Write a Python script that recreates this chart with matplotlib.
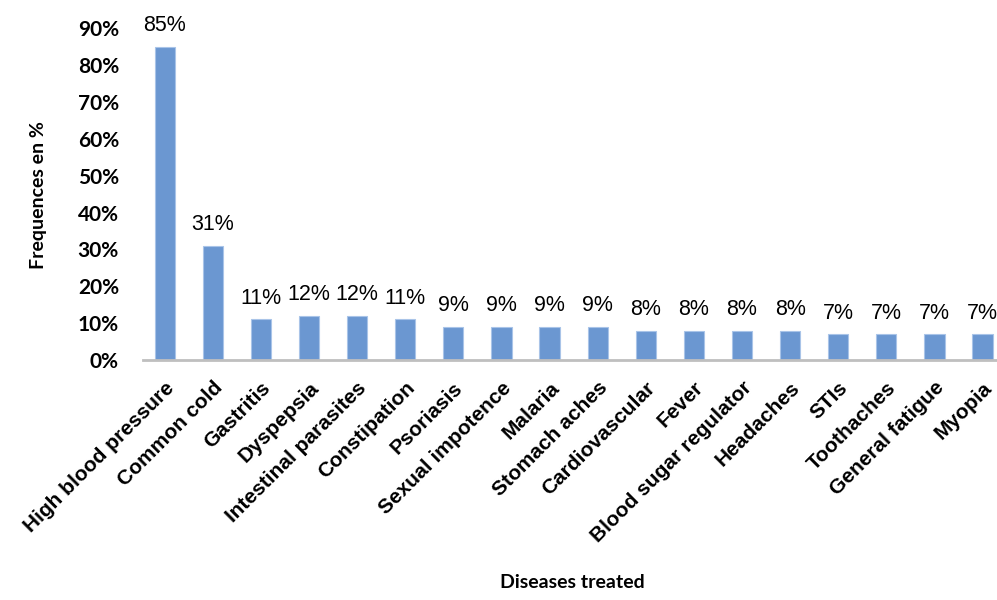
import matplotlib
matplotlib.use("Agg")
import matplotlib.pyplot as plt

plt.rcParams['font.family'] = ['Liberation Sans', 'DejaVu Sans']

diseases = ['High blood pressure', 'Common cold', 'Gastritis', 'Dyspepsia',
            'Intestinal parasites', 'Constipation', 'Psoriasis', 'Sexual impotence',
            'Malaria', 'Stomach aches', 'Cardiovascular', 'Fever',
            'Blood sugar regulator', 'Headaches', 'STIs', 'Toothaches',
            'General fatigue', 'Myopia']
freq = [85, 31, 11, 12, 12, 11, 9, 9, 9, 9, 8, 8, 8, 8, 7, 7, 7, 7]
yticks = [0, 10, 20, 30, 40, 50, 60, 70, 80, 90]

fig = plt.figure(figsize=(9.97, 6), dpi=100)
ax = fig.add_axes([0.143, 0.4, 0.857, 0.553])

x = range(len(diseases))
ax.bar(x, freq, width=0.42, color='#6b97d1', edgecolor='#a9c4e8', linewidth=0.8)
for xi, v in zip(x, freq):
    ax.text(xi, v + 2.8, f'{v}%', ha='center', va='bottom', fontsize=15.5)

ax.set_xlim(-0.46, 17.3)
ax.set_ylim(0, 90)
ax.set_yticks(yticks)
ax.set_yticklabels([f'{t}%' for t in yticks], fontweight='bold', fontsize=15,
                   family=['Lato', 'DejaVu Sans'])
ax.set_xticks(list(x))
ax.set_xticklabels(diseases, rotation=45, ha='right', rotation_mode='anchor',
                   fontweight='bold', fontsize=15)
ax.tick_params(axis='y', length=0, pad=17)
ax.tick_params(axis='x', length=0, pad=13)

for s in ['top', 'right', 'left']:
    ax.spines[s].set_visible(False)
ax.spines['bottom'].set_color('#bfbfbf')
ax.spines['bottom'].set_linewidth(2)

fig.text(0.039, 0.675, 'Frequences en %', rotation=90, ha='center', va='center',
         fontweight='bold', fontsize=14, family=['Lato', 'DejaVu Sans'])
fig.text(0.574, 0.02, 'Diseases treated', ha='center', fontweight='bold',
         fontsize=14, family=['Lato', 'DejaVu Sans'])

fig.savefig('out.png', dpi=100)
